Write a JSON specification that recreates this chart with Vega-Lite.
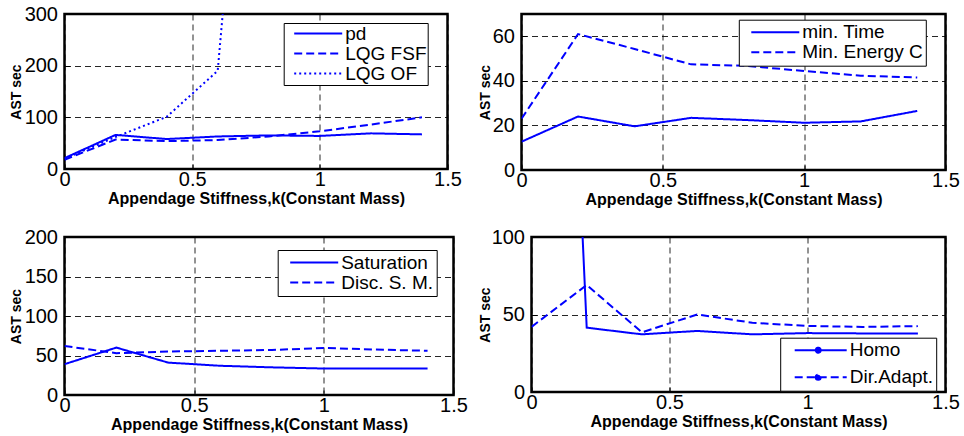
{
  "$schema": "https://vega.github.io/schema/vega-lite/v6.json",
  "padding": {"left": 7.5, "top": 2, "right": 0, "bottom": 0},
  "background": "white",
  "columns": 2,
  "align": {"row": "all", "column": "none"},
  "spacing": {"row": 14, "column": 7},
  "resolve": {"scale": {"strokeDash": "independent"}, "legend": {"strokeDash": "independent"}},
  "config": {
    "font": "Liberation Sans",
    "view": {"stroke": "#000000", "strokeWidth": 2.5},
    "axis": {
      "domain": false,
      "grid": true,
      "gridColor": "#000000",
      "gridDash": [6, 4],
      "gridWidth": 1,
      "gridOpacity": 0.85,
      "ticks": true,
      "tickColor": "#000000",
      "tickSize": -5,
      "tickWidth": 1,
      "labelFontSize": 20,
      "labelColor": "#000000",
      "labelFlush": false,
      "labelOverlap": false,
      "titleFontSize": 16,
      "titleFontWeight": "bold",
      "titleColor": "#000000"
    },
    "axisX": {"labelPadding": 5, "titlePadding": 1, "format": "~g"},
    "axisY": {"labelPadding": 12, "titlePadding": 2, "titleFontSize": 14},
    "legend": {
      "title": null,
      "orient": "none",
      "strokeColor": "#000000",
      "fillColor": "white",
      "labelFontSize": 19,
      "labelColor": "#000000",
      "symbolSize": 4,
      "symbolStrokeWidth": 2,
      "symbolStrokeColor": "#0000ff",
      "symbolFillColor": "transparent",
      "symbolType": "M0,0H48",
      "labelOffset": 41.5
    }
  },
  "data": {"values": [
    {"p": 1, "s": "pd", "x": 0, "y": 21},
    {"p": 1, "s": "pd", "x": 0.2, "y": 66},
    {"p": 1, "s": "pd", "x": 0.4, "y": 58},
    {"p": 1, "s": "pd", "x": 0.6, "y": 63},
    {"p": 1, "s": "pd", "x": 0.8, "y": 65},
    {"p": 1, "s": "pd", "x": 1.0, "y": 64},
    {"p": 1, "s": "pd", "x": 1.2, "y": 69},
    {"p": 1, "s": "pd", "x": 1.4, "y": 67},
    {"p": 1, "s": "LQG FSF", "x": 0, "y": 18},
    {"p": 1, "s": "LQG FSF", "x": 0.2, "y": 57},
    {"p": 1, "s": "LQG FSF", "x": 0.4, "y": 54},
    {"p": 1, "s": "LQG FSF", "x": 0.6, "y": 56},
    {"p": 1, "s": "LQG FSF", "x": 0.8, "y": 63},
    {"p": 1, "s": "LQG FSF", "x": 1.0, "y": 73},
    {"p": 1, "s": "LQG FSF", "x": 1.2, "y": 86},
    {"p": 1, "s": "LQG FSF", "x": 1.4, "y": 100},
    {"p": 1, "s": "LQG OF", "x": 0, "y": 20},
    {"p": 1, "s": "LQG OF", "x": 0.2, "y": 62},
    {"p": 1, "s": "LQG OF", "x": 0.4, "y": 101},
    {"p": 1, "s": "LQG OF", "x": 0.6, "y": 190},
    {"p": 1, "s": "LQG OF", "x": 0.8, "y": 1310},
    {"p": 2, "s": "min. Time", "x": 0, "y": 12.7},
    {"p": 2, "s": "min. Time", "x": 0.2, "y": 24},
    {"p": 2, "s": "min. Time", "x": 0.4, "y": 19.6},
    {"p": 2, "s": "min. Time", "x": 0.6, "y": 23.4},
    {"p": 2, "s": "min. Time", "x": 0.8, "y": 22.4},
    {"p": 2, "s": "min. Time", "x": 1.0, "y": 21.2},
    {"p": 2, "s": "min. Time", "x": 1.2, "y": 21.8},
    {"p": 2, "s": "min. Time", "x": 1.4, "y": 26.5},
    {"p": 2, "s": "Min. Energy C", "x": 0, "y": 23},
    {"p": 2, "s": "Min. Energy C", "x": 0.2, "y": 61},
    {"p": 2, "s": "Min. Energy C", "x": 0.4, "y": 54.3},
    {"p": 2, "s": "Min. Energy C", "x": 0.6, "y": 47.4},
    {"p": 2, "s": "Min. Energy C", "x": 0.8, "y": 46.7},
    {"p": 2, "s": "Min. Energy C", "x": 1.0, "y": 44.4},
    {"p": 2, "s": "Min. Energy C", "x": 1.2, "y": 42.3},
    {"p": 2, "s": "Min. Energy C", "x": 1.4, "y": 41.5},
    {"p": 3, "s": "Saturation", "x": 0, "y": 39},
    {"p": 3, "s": "Saturation", "x": 0.2, "y": 60},
    {"p": 3, "s": "Saturation", "x": 0.4, "y": 41},
    {"p": 3, "s": "Saturation", "x": 0.6, "y": 37},
    {"p": 3, "s": "Saturation", "x": 0.8, "y": 35},
    {"p": 3, "s": "Saturation", "x": 1.0, "y": 33.5},
    {"p": 3, "s": "Saturation", "x": 1.2, "y": 33.5},
    {"p": 3, "s": "Saturation", "x": 1.4, "y": 33.5},
    {"p": 3, "s": "Disc. S. M.", "x": 0, "y": 62},
    {"p": 3, "s": "Disc. S. M.", "x": 0.2, "y": 53},
    {"p": 3, "s": "Disc. S. M.", "x": 0.4, "y": 55},
    {"p": 3, "s": "Disc. S. M.", "x": 0.6, "y": 56},
    {"p": 3, "s": "Disc. S. M.", "x": 0.8, "y": 57},
    {"p": 3, "s": "Disc. S. M.", "x": 1.0, "y": 59.5},
    {"p": 3, "s": "Disc. S. M.", "x": 1.2, "y": 57.5},
    {"p": 3, "s": "Disc. S. M.", "x": 1.4, "y": 56},
    {"p": 4, "s": "Homo", "x": 0, "y": 830},
    {"p": 4, "s": "Homo", "x": 0.2, "y": 41.5},
    {"p": 4, "s": "Homo", "x": 0.4, "y": 37.2},
    {"p": 4, "s": "Homo", "x": 0.6, "y": 39.4},
    {"p": 4, "s": "Homo", "x": 0.8, "y": 37.2},
    {"p": 4, "s": "Homo", "x": 1.0, "y": 38},
    {"p": 4, "s": "Homo", "x": 1.2, "y": 37.8},
    {"p": 4, "s": "Homo", "x": 1.4, "y": 37.8},
    {"p": 4, "s": "Dir.Adapt.", "x": 0, "y": 42},
    {"p": 4, "s": "Dir.Adapt.", "x": 0.2, "y": 69},
    {"p": 4, "s": "Dir.Adapt.", "x": 0.4, "y": 38.5},
    {"p": 4, "s": "Dir.Adapt.", "x": 0.6, "y": 50},
    {"p": 4, "s": "Dir.Adapt.", "x": 0.8, "y": 44.7},
    {"p": 4, "s": "Dir.Adapt.", "x": 1.0, "y": 42.6},
    {"p": 4, "s": "Dir.Adapt.", "x": 1.2, "y": 42},
    {"p": 4, "s": "Dir.Adapt.", "x": 1.4, "y": 42.5}
  ]},
  "concat": [
    {
      "width": 383, "height": 155,
      "transform": [{"filter": "datum.p == 1"}],
      "mark": {"type": "line", "color": "#0000ff", "strokeWidth": 2, "clip": true},
      "encoding": {
        "x": {"field": "x", "type": "quantitative", "scale": {"domain": [0, 1.5], "nice": false}, "axis": {"values": [0, 0.5, 1, 1.5], "title": "Appendage Stiffness,k(Constant Mass)"}},
        "y": {"field": "y", "type": "quantitative", "scale": {"domain": [0, 300], "nice": false}, "axis": {"values": [0, 100, 200, 300], "title": "AST sec", "titlePadding": 1}},
        "strokeDash": {"field": "s", "type": "nominal", "scale": {"domain": ["pd", "LQG FSF", "LQG OF"], "range": [[1, 0], [8, 4], [2, 3]]}, "legend": {"legendX": 219.2, "legendY": 9, "padding": 1, "rowPadding": -1.3}}
      }
    },
    {
      "width": 424, "height": 156,
      "transform": [{"filter": "datum.p == 2"}],
      "mark": {"type": "line", "color": "#0000ff", "strokeWidth": 2, "clip": true},
      "encoding": {
        "x": {"field": "x", "type": "quantitative", "scale": {"domain": [0, 1.5], "nice": false}, "axis": {"values": [0, 0.5, 1, 1.5], "title": "Appendage Stiffness,k(Constant Mass)"}},
        "y": {"field": "y", "type": "quantitative", "scale": {"domain": [0, 70], "nice": false}, "axis": {"values": [0, 20, 40, 60], "title": "AST sec", "titlePadding": 0}},
        "strokeDash": {"field": "s", "type": "nominal", "scale": {"domain": ["min. Time", "Min. Energy C"], "range": [[1, 0], [8, 4]]}, "legend": {"legendX": 217.3, "legendY": 5.7, "padding": 3, "rowPadding": -1.3}}
      }
    },
    {
      "width": 389, "height": 158,
      "transform": [{"filter": "datum.p == 3"}],
      "mark": {"type": "line", "color": "#0000ff", "strokeWidth": 2, "clip": true},
      "encoding": {
        "x": {"field": "x", "type": "quantitative", "scale": {"domain": [0, 1.5], "nice": false}, "axis": {"values": [0, 0.5, 1, 1.5], "title": "Appendage Stiffness,k(Constant Mass)"}},
        "y": {"field": "y", "type": "quantitative", "scale": {"domain": [0, 200], "nice": false}, "axis": {"values": [0, 50, 100, 150, 200], "title": "AST sec", "titlePadding": 1}},
        "strokeDash": {"field": "s", "type": "nominal", "scale": {"domain": ["Saturation", "Disc. S. M."], "range": [[1, 0], [8, 4]]}, "legend": {"legendX": 213.2, "legendY": 13, "padding": 3, "rowPadding": 0}}
      }
    },
    {
      "width": 414, "height": 155,
      "transform": [{"filter": "datum.p == 4"}],
      "mark": {"type": "line", "color": "#0000ff", "strokeWidth": 2, "clip": true},
      "encoding": {
        "x": {"field": "x", "type": "quantitative", "scale": {"domain": [0, 1.5], "nice": false}, "axis": {"values": [0, 0.5, 1, 1.5], "title": "Appendage Stiffness,k(Constant Mass)"}},
        "y": {"field": "y", "type": "quantitative", "scale": {"domain": [0, 100], "nice": false}, "axis": {"values": [0, 50, 100], "title": "AST sec", "titlePadding": -1.5}},
        "strokeDash": {"field": "s", "type": "nominal", "scale": {"domain": ["Homo", "Dir.Adapt."], "range": [[1, 0], [8, 4]]}, "legend": {"legendX": 248.7, "legendY": 100.7, "padding": 3, "rowPadding": 7, "symbolType": "M2,0H54M25.5,0m-2.5,0a2.5,2.5 0 1,0 5,0a2.5,2.5 0 1,0 -5,0", "symbolFillColor": "#0000ff", "labelOffset": 47.5}}
      }
    }
  ]
}
